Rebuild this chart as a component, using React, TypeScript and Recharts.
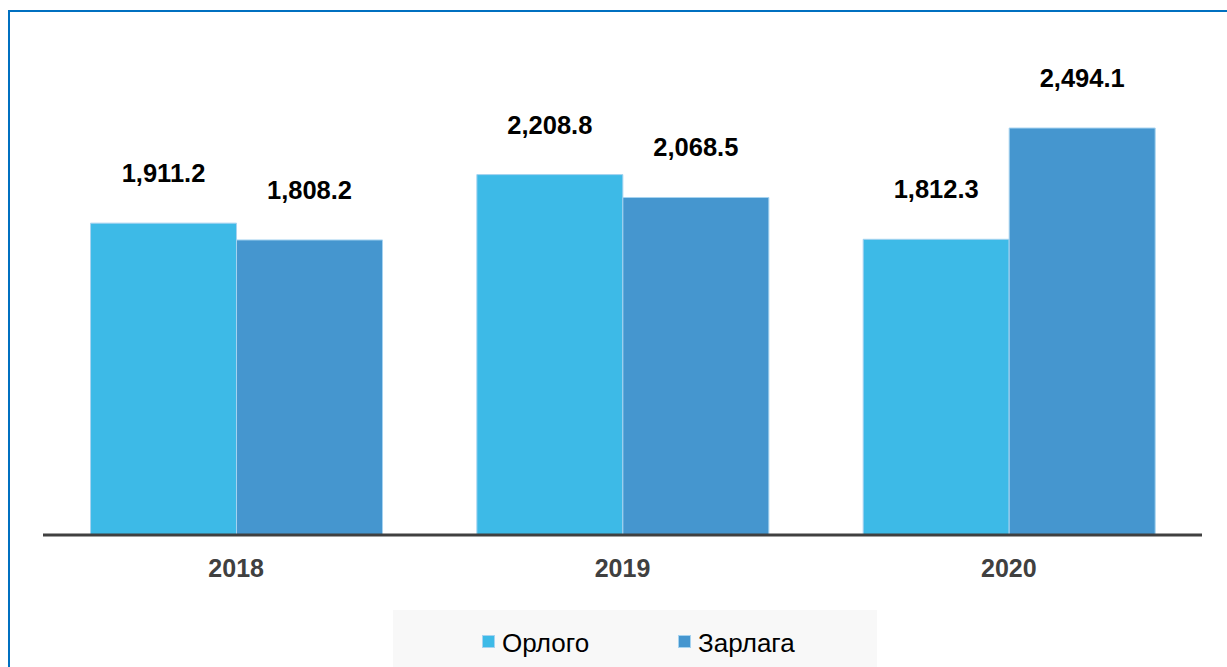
import React from 'react';
import { BarChart, Bar, XAxis, YAxis, LabelList, Legend } from 'recharts';

const categories = ['2018', '2019', '2020'];
const orlogo = [1911.2, 2208.8, 1812.3];
const zarlaga = [1808.2, 2068.5, 2494.1];
const seriesNames = ['Орлого', 'Зарлага'];
const colors = ['#3DBAE7', '#4596CF'];

const data = categories.map((c, i) => ({ year: c, orlogo: orlogo[i], zarlaga: zarlaga[i] }));

const FONT = '"Liberation Sans", Arial, sans-serif';

const fmt = (v: any) =>
  Number(v).toLocaleString('en-US', { minimumFractionDigits: 1, maximumFractionDigits: 1 });

const LegendContent = () => (
  <div style={{ position: 'relative', width: 484, height: 57, background: '#F8F8F8', fontFamily: FONT }}>
    {seriesNames.map((n, i) => (
      <React.Fragment key={n}>
        <div
          style={{
            position: 'absolute',
            left: i === 0 ? 89 : 285,
            top: 25,
            width: 13,
            height: 13,
            background: colors[i],
            boxSizing: 'border-box',
            border: '1px solid #A6D3F0',
          }}
        />
        <div
          style={{
            position: 'absolute',
            left: i === 0 ? 109 : 305,
            top: 18,
            fontSize: 26,
            lineHeight: '30px',
            color: '#000',
            whiteSpace: 'nowrap',
          }}
        >
          {n}
        </div>
      </React.Fragment>
    ))}
  </div>
);

const labelStyle = { fill: '#000', fontSize: 25.5, fontWeight: 'bold', fontFamily: FONT };

export default function App() {
  return (
    <div style={{ position: 'absolute', left: 0, top: 0, width: 1227, height: 667, overflow: 'hidden', background: '#fff' }}>
      <div
        style={{
          position: 'absolute',
          left: 8,
          top: 10,
          width: 1260,
          height: 700,
          border: '2px solid #0070C0',
          boxSizing: 'border-box',
        }}
      />
      <div style={{ position: 'absolute', left: 0, top: 0 }}>
        <BarChart
          width={1227}
          height={667}
          data={data}
          margin={{ top: 45.5, right: 25, left: 43, bottom: 0 }}
          barCategoryGap="12.3%"
          barGap={0}
        >
          <YAxis hide domain={[0, 3000]} />
          <XAxis
            dataKey="year"
            height={132}
            axisLine={{ stroke: '#404040', strokeWidth: 3 }}
            tickLine={false}
            tickMargin={18}
            tick={{ fill: '#404040', fontSize: 25, fontWeight: 'bold', fontFamily: FONT }}
          />
          <Legend
            verticalAlign="middle"
            align="center"
            content={<LegendContent />}
            wrapperStyle={{ top: 610, left: 393, width: 484, height: 57 }}
          />
          <Bar dataKey="orlogo" name={seriesNames[0]} fill={colors[0]} stroke="#A6D3F0" strokeWidth={1} isAnimationActive={false}>
            <LabelList dataKey="orlogo" position="top" offset={41} formatter={fmt} style={labelStyle} />
          </Bar>
          <Bar dataKey="zarlaga" name={seriesNames[1]} fill={colors[1]} stroke="#A6D3F0" strokeWidth={1} isAnimationActive={false}>
            <LabelList dataKey="zarlaga" position="top" offset={41} formatter={fmt} style={labelStyle} />
          </Bar>
        </BarChart>
      </div>
    </div>
  );
}
